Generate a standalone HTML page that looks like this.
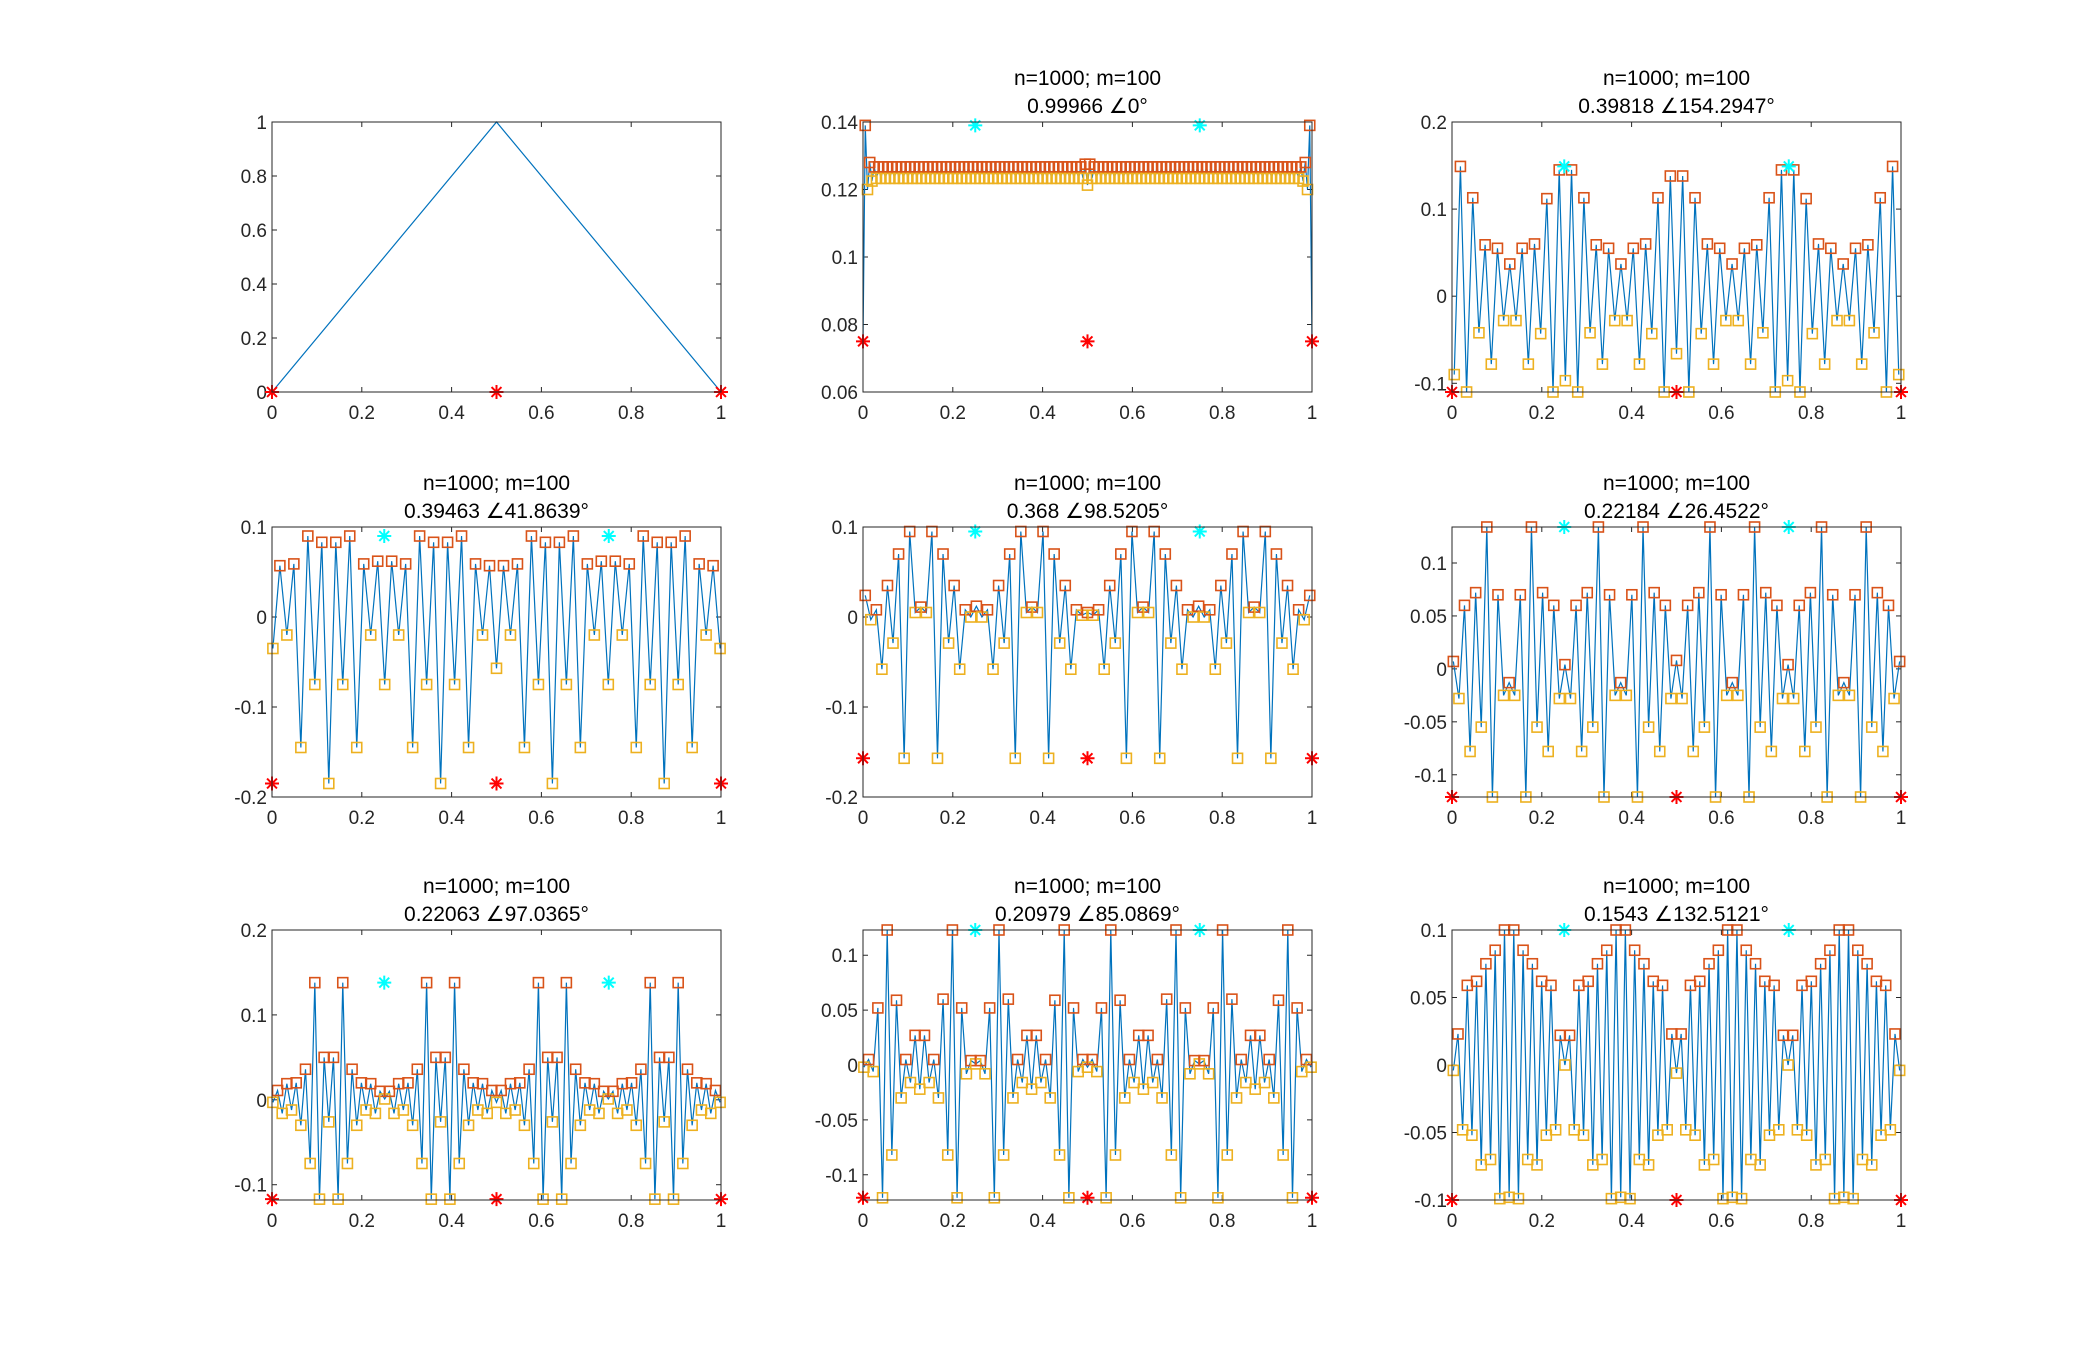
<!DOCTYPE html>
<html><head><meta charset="utf-8">
<style>
html,body{margin:0;padding:0;background:#fff;}
svg{display:block;font-family:"Liberation Sans",Arial,sans-serif;}
</style></head>
<body>
<svg id="fig" width="2100" height="1348" viewBox="0 0 2100 1348" xmlns="http://www.w3.org/2000/svg"></svg>
<script>
// ---------- data ----------
const p1X=[0,0.5,1];
const p1Y=[0,1,0];
const p2Y=[0.075,0.139,0.120,0.128,0.1225,
0.1267,0.1233,0.1267,0.1233,0.1267,0.1233,0.1267,0.1233,0.1267,0.1233,0.1267,0.1233,0.1267,0.1233,0.1267,0.1233,0.1267,0.1233,0.1267,0.1233,
0.1267,0.1233,0.1267,0.1233,0.1267,0.1233,0.1267,0.1233,0.1267,0.1233,0.1267,0.1233,0.1267,0.1233,0.1267,0.1233,0.1267,0.1233,0.1267,0.1233,
0.1267,0.1233,0.1267,0.1233,0.1267,0.1233,0.1267,0.1233,0.1267,0.1233,0.1267,0.1233,0.1267,0.1233,0.1267,0.1233,0.1267,0.1233,0.1267,0.1233,
0.1267,0.1233,0.1267,0.1233,0.1267,0.1233,0.1267,0.1233,0.1267,0.1233,0.1267,0.1233,0.1267,0.1233,0.1267,0.1233,0.1267,0.1233,0.1267,0.1233,
0.1267,0.1233,0.1267,0.1233,0.1267,0.1233,0.1267,0.1233,0.1267,0.1233,0.1267,0.1233,0.1267,0.1233,
0.1275,0.1213,0.1275,
0.1233,0.1267,0.1233,0.1267,0.1233,0.1267,0.1233,0.1267,0.1233,0.1267,0.1233,0.1267,0.1233,0.1267,0.1233,0.1267,0.1233,0.1267,0.1233,0.1267,
0.1233,0.1267,0.1233,0.1267,0.1233,0.1267,0.1233,0.1267,0.1233,0.1267,0.1233,0.1267,0.1233,0.1267,0.1233,0.1267,0.1233,0.1267,0.1233,0.1267,
0.1233,0.1267,0.1233,0.1267,0.1233,0.1267,0.1233,0.1267,0.1233,0.1267,0.1233,0.1267,0.1233,0.1267,0.1233,0.1267,0.1233,0.1267,0.1233,0.1267,
0.1233,0.1267,0.1233,0.1267,0.1233,0.1267,0.1233,0.1267,0.1233,0.1267,0.1233,0.1267,0.1233,0.1267,0.1233,0.1267,0.1233,0.1267,0.1233,0.1267,
0.1233,0.1267,0.1233,0.1267,0.1233,0.1267,0.1233,0.1267,0.1233,0.1267,0.1233,0.1267,0.1233,0.1267,
0.1225,0.128,0.120,0.139,0.075];
const p3Y=[-0.09,0.149,-0.11,0.113,-0.042,0.059,-0.078,0.055,-0.028,0.037,-0.028,0.055,-0.078,0.06,-0.043,0.112,-0.11,0.145,-0.097,0.145,-0.11,0.113,-0.042,0.059,-0.078,0.055,-0.028,0.037,-0.028,0.055,-0.078,0.06,-0.043,0.113,-0.11,0.138,-0.066,
0.138,-0.11,0.113,-0.043,0.06,-0.078,0.055,-0.028,0.037,-0.028,0.055,-0.078,0.059,-0.042,0.113,-0.11,0.145,-0.097,0.145,-0.11,0.112,-0.043,0.06,-0.078,0.055,-0.028,0.037,-0.028,0.055,-0.078,0.059,-0.042,0.113,-0.11,0.149,-0.09];
const p4Y=[-0.035,0.057,-0.02,0.059,-0.145,0.09,-0.075,0.083,-0.185,0.083,-0.075,0.09,-0.145,0.059,-0.02,0.062,-0.075,0.062,-0.02,0.059,-0.145,0.09,-0.075,0.083,-0.185,0.083,-0.075,0.09,-0.145,0.059,-0.02,0.057,-0.057,
0.057,-0.02,0.059,-0.145,0.09,-0.075,0.083,-0.185,0.083,-0.075,0.09,-0.145,0.059,-0.02,0.062,-0.075,0.062,-0.02,0.059,-0.145,0.09,-0.075,0.083,-0.185,0.083,-0.075,0.09,-0.145,0.059,-0.02,0.057,-0.035];
const p5Y=[0.024,-0.003,0.008,-0.058,0.035,-0.029,0.07,-0.157,0.095,0.005,0.011,0.005,0.095,-0.157,0.07,-0.029,0.035,-0.058,0.008,0.000,0.012,0.000,0.008,-0.058,0.035,-0.029,0.07,-0.157,0.095,0.005,0.011,0.005,0.095,-0.157,0.07,-0.029,0.035,-0.058,0.008,0.002,0.005,
0.002,0.008,-0.058,0.035,-0.029,0.07,-0.157,0.095,0.005,0.011,0.005,0.095,-0.157,0.07,-0.029,0.035,-0.058,0.008,0.000,0.012,0.000,0.008,-0.058,0.035,-0.029,0.07,-0.157,0.095,0.005,0.011,0.005,0.095,-0.157,0.07,-0.029,0.035,-0.058,0.008,-0.003,0.024];
const p6Y=[0.007,-0.028,0.06,-0.078,0.072,-0.055,0.134,-0.121,0.07,-0.025,-0.013,-0.025,0.07,-0.121,0.134,-0.055,0.072,-0.078,0.06,-0.028,0.004,-0.028,0.06,-0.078,0.072,-0.055,0.134,-0.121,0.07,-0.025,-0.013,-0.025,0.07,-0.121,0.134,-0.055,0.072,-0.078,0.06,-0.028,0.008,
-0.028,0.06,-0.078,0.072,-0.055,0.134,-0.121,0.07,-0.025,-0.013,-0.025,0.07,-0.121,0.134,-0.055,0.072,-0.078,0.06,-0.028,0.004,-0.028,0.06,-0.078,0.072,-0.055,0.134,-0.121,0.07,-0.025,-0.013,-0.025,0.07,-0.121,0.134,-0.055,0.072,-0.078,0.06,-0.028,0.007];
const p7Y=[-0.003,0.011,-0.016,0.019,-0.012,0.02,-0.03,0.036,-0.075,0.138,-0.117,0.05,-0.026,0.05,-0.117,0.138,-0.075,0.036,-0.03,0.02,-0.012,0.019,-0.016,0.01,0.001,0.01,-0.016,0.019,-0.012,0.02,-0.03,0.036,-0.075,0.138,-0.117,0.05,-0.026,0.05,-0.117,0.138,-0.075,0.036,-0.03,0.02,-0.012,0.019,-0.016,0.011,-0.003,
0.011,-0.016,0.019,-0.012,0.02,-0.03,0.036,-0.075,0.138,-0.117,0.05,-0.026,0.05,-0.117,0.138,-0.075,0.036,-0.03,0.02,-0.012,0.019,-0.016,0.01,0.001,0.01,-0.016,0.019,-0.012,0.02,-0.03,0.036,-0.075,0.138,-0.117,0.05,-0.026,0.05,-0.117,0.138,-0.075,0.036,-0.03,0.02,-0.012,0.019,-0.016,0.011,-0.003];
const p8Y=[-0.002,0.005,-0.006,0.052,-0.121,0.123,-0.082,0.059,-0.03,0.005,-0.016,0.027,-0.022,0.027,-0.016,0.005,-0.03,0.06,-0.082,0.123,-0.121,0.052,-0.008,0.004,0.001,
0.004,-0.008,0.052,-0.121,0.123,-0.082,0.06,-0.03,0.005,-0.016,0.027,-0.022,0.027,-0.016,0.005,-0.03,0.059,-0.082,0.123,-0.121,0.052,-0.006,0.005,-0.002,
0.005,-0.006,0.052,-0.121,0.123,-0.082,0.059,-0.03,0.005,-0.016,0.027,-0.022,0.027,-0.016,0.005,-0.03,0.06,-0.082,0.123,-0.121,0.052,-0.008,0.004,0.001,
0.004,-0.008,0.052,-0.121,0.123,-0.082,0.06,-0.03,0.005,-0.016,0.027,-0.022,0.027,-0.016,0.005,-0.03,0.059,-0.082,0.123,-0.121,0.052,-0.006,0.005,-0.002];
const p9Y=[-0.004,0.023,-0.048,0.059,-0.052,0.062,-0.074,0.075,-0.07,0.085,-0.099,0.1,-0.098,0.1,-0.099,0.085,-0.07,0.075,-0.074,0.062,-0.052,0.059,-0.048,0.022,0.000,
0.022,-0.048,0.059,-0.052,0.062,-0.074,0.075,-0.07,0.085,-0.099,0.1,-0.098,0.1,-0.099,0.085,-0.07,0.075,-0.074,0.062,-0.052,0.059,-0.048,0.023,-0.006,
0.023,-0.048,0.059,-0.052,0.062,-0.074,0.075,-0.07,0.085,-0.099,0.1,-0.098,0.1,-0.099,0.085,-0.07,0.075,-0.074,0.062,-0.052,0.059,-0.048,0.022,0.000,
0.022,-0.048,0.059,-0.052,0.062,-0.074,0.075,-0.07,0.085,-0.099,0.1,-0.098,0.1,-0.099,0.085,-0.07,0.075,-0.074,0.062,-0.052,0.059,-0.048,0.023,-0.004];

const seriesY=[p1Y,p2Y,p3Y,p4Y,p5Y,p6Y,p7Y,p8Y,p9Y];
const seriesXRange=[[0,1],[0,1],[0.005,0.995],[0.002,0.998],[0.005,0.995],[0.003,0.997],[0.002,0.998],[0.002,0.998],[0.003,0.997]];
const yLims=[[0,1],[0.06,0.14],[-0.11,0.2],[-0.2,0.1],[-0.2,0.1],[-0.121,0.134],[-0.118,0.2],[-0.123,0.123],[-0.1,0.1]];
const yTicks=[[0,0.2,0.4,0.6,0.8,1],[0.06,0.08,0.1,0.12,0.14],[-0.1,0,0.1,0.2],[-0.2,-0.1,0,0.1],[-0.2,-0.1,0,0.1],[-0.1,-0.05,0,0.05,0.1],[-0.1,0,0.1,0.2],[-0.1,-0.05,0,0.05,0.1],[-0.1,-0.05,0,0.05,0.1]];
const xTicks=[0,0.2,0.4,0.6,0.8,1];
const titleTop=["","n=1000; m=100","n=1000; m=100","n=1000; m=100","n=1000; m=100","n=1000; m=100","n=1000; m=100","n=1000; m=100","n=1000; m=100"];
const titleBottom=["","0.99966 \u22200\u00b0","0.39818 \u2220154.2947\u00b0","0.39463 \u222041.8639\u00b0","0.368 \u222098.5205\u00b0","0.22184 \u222026.4522\u00b0","0.22063 \u222097.0365\u00b0","0.20979 \u222085.0869\u00b0","0.1543 \u2220132.5121\u00b0"];
const redStarX=[0,0.5,1];
const cyanStarX=[0.25,0.75];
const redStarY=[0,0.075,-0.11,-0.185,-0.157,-0.121,-0.117,-0.121,-0.1];
const cyanStarY=[null,0.139,0.149,0.09,0.095,0.134,0.138,0.123,0.1];
const markEnds=[false,false,true,true,true,true,true,true,true];

// ---------- layout ----------
const colLeft=[272,863,1452], rowTop=[122,527,930], AW=449, AH=270;
const NS="http://www.w3.org/2000/svg";
const svg=document.getElementById('fig');
function mk(tag,attrs,parent){const e=document.createElementNS(NS,tag);for(const k in attrs)e.setAttribute(k,attrs[k]);(parent||svg).appendChild(e);return e;}
function fmt(v){let s=(Math.round(v*1000)/1000).toString();return s;}
function star(g,cx,cy,color){
  const r=7;
  let d='';
  for(let a=0;a<4;a++){const t=a*Math.PI/4;d+=`M${cx-r*Math.cos(t)},${cy-r*Math.sin(t)}L${cx+r*Math.cos(t)},${cy+r*Math.sin(t)}`;}
  return mk('path',{d:d,stroke:color,'stroke-width':2,fill:'none'},g);
}

for(let p=0;p<9;p++){
  const L=colLeft[p%3], T=rowTop[Math.floor(p/3)];
  const [y0,y1]=yLims[p];
  const xs=v=>L+v*AW;
  const ys=v=>T+AH-(v-y0)/(y1-y0)*AH;
  const g=mk('g',{});
  
  
  const clipId='clip'+p;
  const cp=mk('clipPath',{id:clipId},g);
  mk('rect',{x:L-8,y:T-8,width:AW+16,height:AH+16},cp);
  // ticks
  const tg=mk('g',{stroke:'#262626','stroke-width':1},g);
  
  
  xTicks.forEach(t=>{
    const x=xs(t);
    mk('line',{x1:x,y1:T+AH,x2:x,y2:T+AH-5},tg);
    mk('line',{x1:x,y1:T,x2:x,y2:T+5},tg);
    const tx=mk('text',{x:x,y:T+AH+27,'text-anchor':'middle','font-size':19,fill:'#262626'},g);
    
    
    tx.textContent=fmt(t);
  });
  yTicks[p].forEach(t=>{
    const y=ys(t);
    mk('line',{x1:L,y1:y,x2:L+5,y2:y},tg);
    mk('line',{x1:L+AW,y1:y,x2:L+AW-5,y2:y},tg);
    const tx=mk('text',{x:L-5,y:y+7,'text-anchor':'end','font-size':19,fill:'#262626'},g);
    
    
    tx.textContent=fmt(t);
  });
  // series
  const Y=seriesY[p];
  let X;
  if(p===0){X=p1X;}else{const [a,b]=seriesXRange[p];X=Y.map((_,i)=>a+(b-a)*i/(Y.length-1));}
  const dg=mk('g',{'clip-path':`url(#${clipId})`},g);
  const line=mk('polyline',{points:Y.map((v,i)=>xs(X[i]).toFixed(2)+','+ys(v).toFixed(2)).join(' '),fill:'none',stroke:'#0072BD','stroke-width':1.2},dg);
  
  
  if(p>0){
    for(let i=0;i<Y.length;i++){
      const isEnd=(i===0||i===Y.length-1);
      if(isEnd&&!markEnds[p])continue;
      const prev=i>0?Y[i-1]:null,next=i<Y.length-1?Y[i+1]:null;
      const isMax=(prev===null||Y[i]>=prev)&&(next===null||Y[i]>=next);
      const isMin=(prev===null||Y[i]<=prev)&&(next===null||Y[i]<=next);
      if(!isMax&&!isMin)continue;
      const s=mk('rect',{x:xs(X[i])-5,y:ys(Y[i])-5,width:10,height:10,fill:'none',stroke:isMax?'#D95319':'#EDB120','stroke-width':1.6},dg);
      
      
    }
  }
  redStarX.forEach(x=>{const s=star(g,xs(x),ys(redStarY[p]),'#FF0000');
    
    });
  if(cyanStarY[p]!==null){cyanStarX.forEach(x=>{const s=star(g,xs(x),ys(cyanStarY[p]),'#00FFFF');
    
    });}
  // box
  const box=mk('rect',{x:L,y:T,width:AW,height:AH,fill:'none',stroke:'#262626','stroke-width':1},g);
  
  
  // title
  if(titleTop[p]){
    const t1=mk('text',{x:L+AW/2,y:T-37,'text-anchor':'middle','font-size':21,fill:'#000'},g);
    
    
    t1.textContent=titleTop[p];
    const t2=mk('text',{x:L+AW/2,y:T-9,'text-anchor':'middle','font-size':21,fill:'#000'},g);
    
    
    t2.textContent=titleBottom[p];
  }
}
</script>
</body></html>
